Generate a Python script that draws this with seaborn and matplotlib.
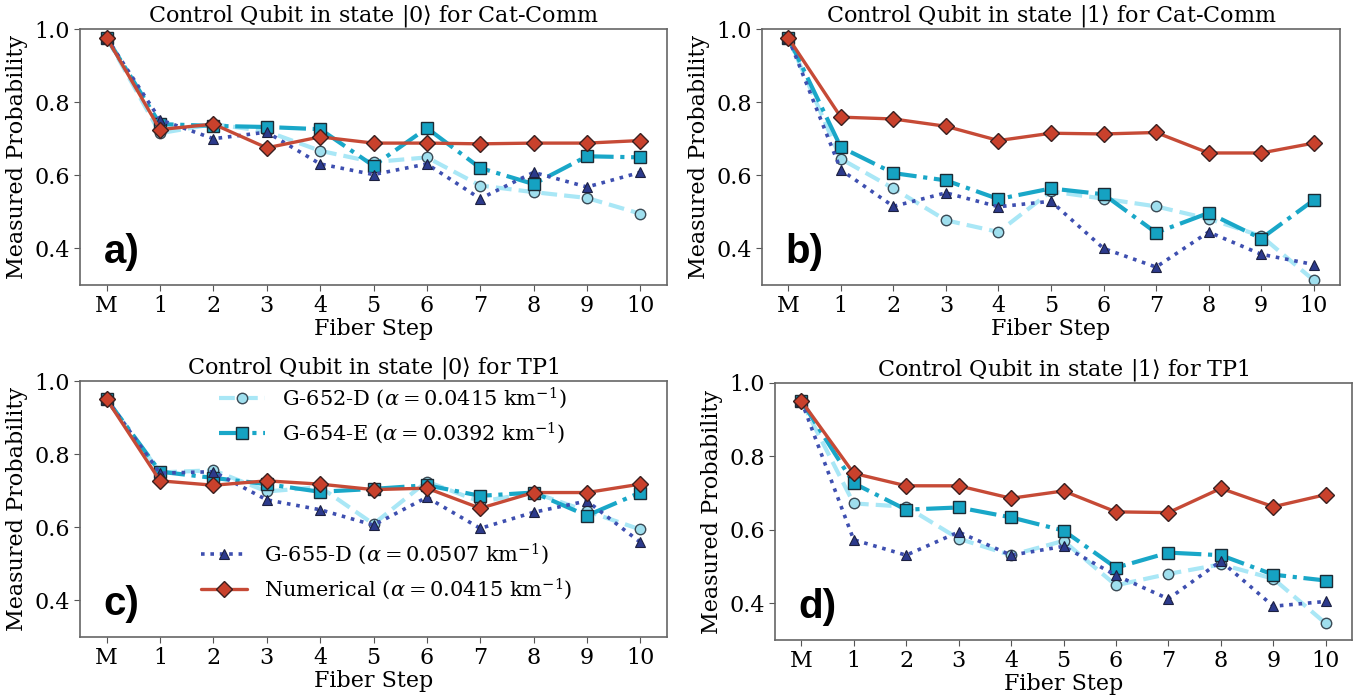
import numpy as np
import pandas as pd
import matplotlib
matplotlib.use("Agg")
import matplotlib.pyplot as plt
import seaborn as sns

sns.set_style("ticks")
plt.rcParams["font.family"] = ["DejaVu Serif"]
plt.rcParams["mathtext.fontset"] = "dejavuserif"
plt.rcParams["text.color"] = "black"
plt.rcParams["axes.labelcolor"] = "black"
plt.rcParams["xtick.color"] = "black"
plt.rcParams["ytick.color"] = "black"

steps = ["M", "1", "2", "3", "4", "5", "6", "7", "8", "9", "10"]

# Panel a: Control qubit |0>, Cat-Comm
a_g652 = [0.976, 0.715, 0.740, 0.720, 0.667, 0.636, 0.649, 0.572, 0.554, 0.538, 0.495]
a_g654 = [0.976, 0.740, 0.735, 0.732, 0.726, 0.626, 0.729, 0.620, 0.576, 0.652, 0.649]
a_g655 = [0.976, 0.752, 0.700, 0.718, 0.631, 0.602, 0.631, 0.536, 0.608, 0.568, 0.608]
a_num  = [0.976, 0.725, 0.740, 0.675, 0.705, 0.688, 0.688, 0.686, 0.688, 0.688, 0.695]

# Panel b: Control qubit |1>, Cat-Comm
b_g652 = [0.976, 0.645, 0.564, 0.477, 0.445, 0.556, 0.536, 0.515, 0.481, 0.434, 0.313]
b_g654 = [0.976, 0.677, 0.606, 0.586, 0.535, 0.564, 0.548, 0.443, 0.497, 0.427, 0.532]
b_g655 = [0.976, 0.615, 0.515, 0.552, 0.514, 0.529, 0.400, 0.349, 0.445, 0.384, 0.356]
b_num  = [0.976, 0.759, 0.754, 0.734, 0.695, 0.715, 0.713, 0.717, 0.661, 0.661, 0.688]

# Panel c: Control qubit |0>, TP1
c_g652 = [0.950, 0.750, 0.756, 0.698, 0.710, 0.609, 0.725, 0.670, 0.695, 0.644, 0.594]
c_g654 = [0.950, 0.752, 0.735, 0.718, 0.697, 0.705, 0.715, 0.686, 0.695, 0.632, 0.695]
c_g655 = [0.950, 0.748, 0.752, 0.675, 0.648, 0.606, 0.682, 0.597, 0.641, 0.672, 0.559]
c_num  = [0.950, 0.727, 0.715, 0.727, 0.718, 0.703, 0.707, 0.652, 0.695, 0.695, 0.718]

# Panel d: Control qubit |1>, TP1
d_g652 = [0.952, 0.672, 0.663, 0.576, 0.531, 0.570, 0.449, 0.480, 0.506, 0.467, 0.345]
d_g654 = [0.952, 0.727, 0.655, 0.661, 0.634, 0.598, 0.497, 0.538, 0.531, 0.478, 0.462]
d_g655 = [0.952, 0.573, 0.531, 0.594, 0.531, 0.555, 0.476, 0.412, 0.515, 0.392, 0.405]
d_num  = [0.952, 0.754, 0.720, 0.720, 0.686, 0.706, 0.649, 0.647, 0.713, 0.663, 0.696]

titles = [
    r"Control Qubit in state $|0\rangle$ for Cat-Comm",
    r"Control Qubit in state $|1\rangle$ for Cat-Comm",
    r"Control Qubit in state $|0\rangle$ for TP1",
    r"Control Qubit in state $|1\rangle$ for TP1",
]
panel_labels = ["a)", "b)", "c)", "d)"]
series_names = [
    r"G-652-D ($\alpha = 0.0415\ \mathrm{km}^{-1}$)",
    r"G-654-E ($\alpha = 0.0392\ \mathrm{km}^{-1}$)",
    r"G-655-D ($\alpha = 0.0507\ \mathrm{km}^{-1}$)",
    r"Numerical ($\alpha = 0.0415\ \mathrm{km}^{-1}$)",
]
panels = [
    [a_g652, a_g654, a_g655, a_num],
    [b_g652, b_g654, b_g655, b_num],
    [c_g652, c_g654, c_g655, c_num],
    [d_g652, d_g654, d_g655, d_num],
]

styles = [
    dict(color="#a9e7f6", linestyle=(0, (3.8, 1.7)), linewidth=3.0, marker="o",
         markersize=7.5, markerfacecolor="#9fdfee", markeredgecolor="#3a4a55", markeredgewidth=1.0),
    dict(color="#19a7c8", linestyle="-.", linewidth=3.0, marker="s",
         markersize=8, markerfacecolor="#15a2c2", markeredgecolor="#1c2b35", markeredgewidth=1.0),
    dict(color="#3e4fb0", linestyle=(0, (1, 1.6)), linewidth=2.6, marker="^",
         markersize=7.5, markerfacecolor="#2c3a8c", markeredgecolor="#1c2040", markeredgewidth=0.8),
    dict(color="#c64a36", linestyle="-", linewidth=2.4, marker="D",
         markersize=8.5, markerfacecolor="#c9412c", markeredgecolor="#3a2020", markeredgewidth=1.0),
]

fig = plt.figure(figsize=(13.69, 6.96), dpi=100)
W, H = 1369.0, 696.0
boxes = [
    (80, 29, 587, 256),
    (762, 29, 578, 256),
    (80, 381, 587, 256),
    (775, 383, 577, 257),
]

x = np.arange(len(steps))
axes = []
for i, (l, t, w, h) in enumerate(boxes):
    ax = fig.add_axes([l / W, 1 - (t + h) / H, w / W, h / H])
    axes.append(ax)
    for j, vals in enumerate(panels[i]):
        df = pd.DataFrame({"step": x, "prob": vals})
        sns.lineplot(data=df, x="step", y="prob", ax=ax, label=series_names[j],
                     legend=False, **styles[j])
    ax.set_xlim(-0.5, 10.5)
    ax.set_ylim(0.3, 1.0)
    ax.set_xticks(x)
    ax.set_xticklabels(steps)
    ax.set_yticks([0.4, 0.6, 0.8, 1.0])
    ax.tick_params(labelsize=16, length=4, color="#555555", pad=3)
    ax.set_xlabel("Fiber Step", fontsize=16, labelpad=1)
    ax.set_ylabel("Measured Probability", fontsize=16, labelpad=5)
    ax.set_title(titles[i], fontsize=16, pad=5)
    for sp in ax.spines.values():
        sp.set_color("#666666")
        sp.set_linewidth(1.2)
    ax.text(0.04, 0.055, panel_labels[i], transform=ax.transAxes, fontsize=29,
            fontweight="bold", family="Liberation Sans", color="black",
            ha="left", va="bottom")

# Legend in panel c, split in two groups
axc = axes[2]
handles, labels = axc.get_legend_handles_labels()
leg1 = axc.legend(handles[:2], labels[:2], loc="upper left", bbox_to_anchor=(0.205, 1.055),
                  frameon=False, fontsize=15, handlelength=2.2, labelspacing=0.45)
axc.add_artist(leg1)
axc.legend(handles[2:], labels[2:], loc="lower left", bbox_to_anchor=(0.175, 0.065),
           frameon=False, fontsize=15, handlelength=2.2, labelspacing=0.45)

fig.savefig("out.png", dpi=100)
